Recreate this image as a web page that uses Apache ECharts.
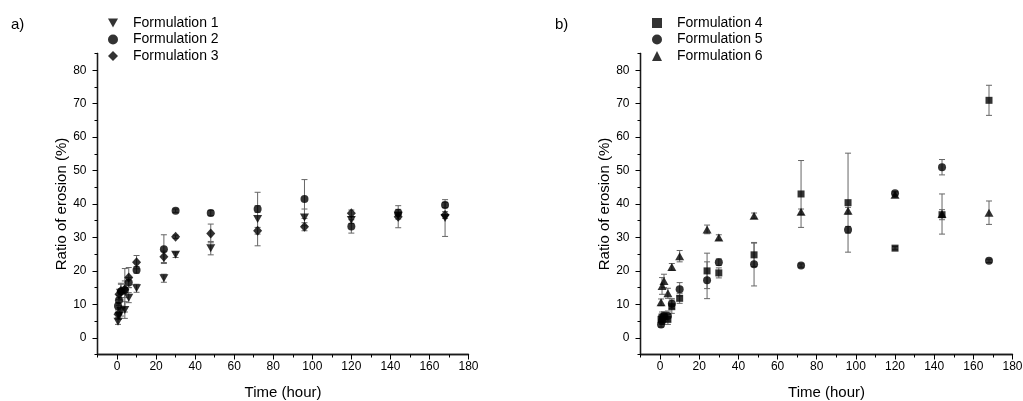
<!DOCTYPE html>
<html>
<head>
<meta charset="utf-8">
<script src="https://cdn.jsdelivr.net/npm/echarts@6/dist/echarts.min.js"></script>
<style>
  html, body { margin: 0; padding: 0; background: #fff; }
  #chart { width: 1023px; height: 401px; }
</style>
</head>
<body>
<div id="chart"></div>
<script>
// sampling times (hour)
const times = [0.5, 1, 2, 4, 6, 10, 24, 30, 48, 72, 96, 120, 144, 168]

// panel a
const f1 = [4.8, 6.5, 8.0, 8.3, 12.0, 14.8, 17.8, 24.8, 26.8, 35.5, 36.0, 35.2, 36.5, 35.8]
const f1Err = [0.8, 1.0, 1.5, 2.5, 1.5, 1.2, 1.2, 0.8, 2.0, 8.0, 2.5, 1.0, 1.0, 5.5]
const f2 = [9.5, 11.2, 13.8, 14.2, 16.5, 20.3, 26.5, 38.0, 37.3, 38.5, 41.5, 33.3, 37.4, 39.7]
const f2Err = [1.0, 1.5, 2.5, 6.5, 1.5, 1.0, 4.3, 0.5, 0.8, 1.0, 5.8, 2.0, 1.0, 0.8]
const f3 = [7.0, 13.0, 14.0, 14.5, 18.0, 22.6, 24.2, 30.2, 31.2, 32.0, 33.2, 37.2, 36.2, 36.7]
const f3Err = [1.0, 1.5, 2.0, 2.5, 3.0, 2.0, 1.7, 0.5, 2.8, 1.0, 1.2, 1.0, 3.3, 1.0]

// panel b
const f4 = [5.5, 6.2, 6.3, 5.5, 9.3, 11.8, 20.0, 19.4, 24.8, 43.0, 40.4, 26.8, 36.8, 71.0]
const f4Err = [1.0, 1.5, 1.5, 1.5, 2.0, 1.5, 5.3, 1.5, 3.5, 10.0, 14.8, 0.5, 1.5, 4.5]
const f5 = [4.0, 5.0, 6.5, 6.5, 10.2, 14.5, 17.2, 22.6, 22.0, 21.6, 32.3, 43.2, 51.0, 23.0]
const f5Err = [0.8, 1.0, 1.0, 1.5, 1.5, 2.0, 5.5, 1.0, 6.5, 0.5, 1.0, 0.5, 2.3, 0.5]
const f6 = [10.6, 15.5, 17.0, 13.3, 21.2, 24.4, 32.4, 30.0, 36.5, 37.7, 38.0, 42.8, 37.0, 37.4]
const f6Err = [1.0, 2.5, 2.0, 1.5, 1.0, 1.7, 1.3, 0.8, 0.8, 0.8, 1.0, 0.8, 6.0, 3.5]

// ticks
const xTicks = [0, 20, 40, 60, 80, 100, 120, 140, 160, 180]
const xMinorTicks = [-10, 10, 30, 50, 70, 90, 110, 130, 150, 170]
const yTicks = [0, 10, 20, 30, 40, 50, 60, 70, 80]
const yMinorTicks = [-5, 5, 15, 25, 35, 45, 55, 65, 75, 85]

const font = 'Liberation Sans, Arial, sans-serif'
const triDown = 'path://M0,0 L10,0 L5,9 Z'

const chart = echarts.init(document.getElementById('chart'))

// 主刻度轴 + 次刻度轴（次轴画轴线）
const makeX = (grid) => [
  {
    type: 'value', gridIndex: grid, min: -10, max: 180,
    name: 'Time (hour)', nameLocation: 'middle', nameGap: 31,
    nameTextStyle: { fontFamily: font, fontSize: 15, color: '#000' },
    axisLine: { show: true, onZero: false, lineStyle: { color: '#1a1a1a', width: 1.3 } },
    axisTick: { show: true, customValues: xTicks, length: 5, lineStyle: { color: '#000' } },
    axisLabel: { customValues: xTicks, fontFamily: font, fontSize: 12, color: '#000', margin: 6 },
    splitLine: { show: false }
  },
  {
    type: 'value', gridIndex: grid, min: -10, max: 180, position: 'bottom',
    axisLine: { show: true, onZero: false, lineStyle: { color: '#1a1a1a', width: 1.3 } },
    axisTick: { show: true, customValues: xMinorTicks, length: 3, lineStyle: { color: '#000' } },
    axisLabel: { show: false },
    splitLine: { show: false }
  }
]

const makeY = (grid) => [
  {
    type: 'value', gridIndex: grid, min: -5, max: 85,
    name: 'Ratio of erosion (%)', nameLocation: 'middle', nameGap: 28,
    nameTextStyle: { fontFamily: font, fontSize: 15, color: '#000' },
    axisLine: { show: true, onZero: false, lineStyle: { color: '#1a1a1a', width: 1.3 } },
    axisTick: { show: true, customValues: yTicks, length: 5, lineStyle: { color: '#000' } },
    axisLabel: { customValues: yTicks, fontFamily: font, fontSize: 12, color: '#000', margin: 11 },
    splitLine: { show: false }
  },
  {
    type: 'value', gridIndex: grid, min: -5, max: 85, position: 'left',
    axisLine: { show: true, onZero: false, lineStyle: { color: '#1a1a1a', width: 1.3 } },
    axisTick: { show: true, customValues: yMinorTicks, length: 3, lineStyle: { color: '#000' } },
    axisLabel: { show: false },
    splitLine: { show: false }
  }
]

const errData = (vals, errs) => times.map((t, i) => [t, vals[i] - errs[i], vals[i] + errs[i]])

const errSeries = (vals, errs, axis) => ({
  type: 'custom',
  xAxisIndex: axis, yAxisIndex: axis,
  z: 1,
  silent: true,
  data: errData(vals, errs),
  renderItem: (params, api) => {
    const lo = api.coord([api.value(0), api.value(1)])
    const hi = api.coord([api.value(0), api.value(2)])
    const style = { stroke: '#666', lineWidth: 1 }
    return {
      type: 'group',
      children: [
        { type: 'line', shape: { x1: lo[0], y1: lo[1], x2: hi[0], y2: hi[1] }, style },
        { type: 'line', shape: { x1: lo[0] - 3, y1: lo[1], x2: lo[0] + 3, y2: lo[1] }, style },
        { type: 'line', shape: { x1: hi[0] - 3, y1: hi[1], x2: hi[0] + 3, y2: hi[1] }, style }
      ]
    }
  }
})

const pts = (name, vals, axis, symbol, size) => ({
  name, type: 'scatter',
  xAxisIndex: axis, yAxisIndex: axis,
  symbol, symbolSize: size, z: 3,
  itemStyle: { color: '#000' },
  data: times.map((t, i) => [t, vals[i]])
})

const legendText = { fontFamily: font, fontSize: 14, color: '#000', padding: [0, 0, 0, 10] }
const labelText = { fontFamily: font, fontSize: 15, fontWeight: 'normal', color: '#000' }

chart.setOption({
  animation: false,
  backgroundColor: '#fff',
  title: [
    { text: 'a)', left: 11, top: 17, padding: 0, textStyle: labelText },
    { text: 'b)', left: 555, top: 17, padding: 0, textStyle: labelText }
  ],
  legend: [
    {
      orient: 'vertical', left: 103, top: 11, itemWidth: 10, itemHeight: 10, itemGap: 2.5,
      textStyle: legendText,
      data: [
        { name: 'Formulation 1', icon: triDown },
        { name: 'Formulation 2', icon: 'circle' },
        { name: 'Formulation 3', icon: 'diamond' }
      ]
    },
    {
      orient: 'vertical', left: 647, top: 11, itemWidth: 10, itemHeight: 10, itemGap: 2.5,
      textStyle: legendText,
      data: [
        { name: 'Formulation 4', icon: 'rect' },
        { name: 'Formulation 5', icon: 'circle' },
        { name: 'Formulation 6', icon: 'triangle' }
      ]
    }
  ],
  grid: [
    { left: 97.5, top: 53.5, width: 371, height: 301, outerBoundsMode: 'none' },
    { left: 640.5, top: 53.5, width: 372, height: 301, outerBoundsMode: 'none' }
  ],
  xAxis: [...makeX(0), ...makeX(1)],
  yAxis: [...makeY(0), ...makeY(1)],
  series: [
    errSeries(f1, f1Err, 0),
    errSeries(f2, f2Err, 0),
    errSeries(f3, f3Err, 0),
    errSeries(f4, f4Err, 2),
    errSeries(f5, f5Err, 2),
    errSeries(f6, f6Err, 2),
    pts('Formulation 1', f1, 0, triDown, [9, 8]),
    pts('Formulation 2', f2, 0, 'circle', 8),
    pts('Formulation 3', f3, 0, 'diamond', [9, 10]),
    pts('Formulation 4', f4, 2, 'rect', 7),
    pts('Formulation 5', f5, 2, 'circle', 8),
    pts('Formulation 6', f6, 2, 'triangle', [9, 8])
  ]
})
</script>
</body>
</html>
